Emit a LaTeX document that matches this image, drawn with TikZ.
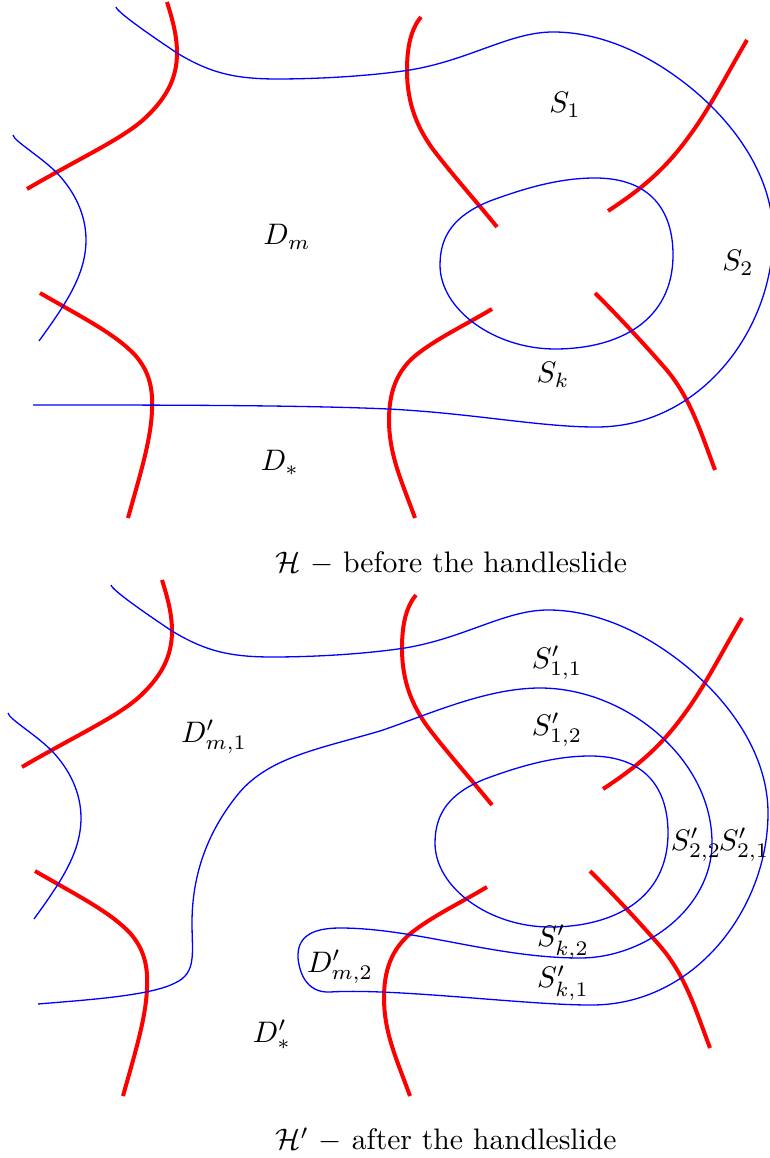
\documentclass[tikz,border=0pt]{standalone}
\usepackage{tikz}
\usetikzlibrary{calc}
\definecolor{alphared}{RGB}{255, 0, 0}
\definecolor{betablue}{RGB}{0, 0, 255}
\tikzset{
    alphacurve/.style={alphared, line width=1.35pt},
    betacurve/.style={betablue, line width=0.44pt},
    region/.style={inner sep=0pt},
}
% curves that are the same before and after the slide
\newcommand{\fixedcurves}{%
    \draw[alphacurve] (167,2) .. controls (172,18) and (177,35) .. (177,53)
        .. controls (177,80) and (165,100) .. (143,120)
        .. controls (120,140) and (80,158) .. (27,189);
    \draw[alphacurve] (40,293) .. controls (85,319) and (115,334) .. (135,355)
        .. controls (150,372) and (153,390) .. (152,410)
        .. controls (151,440) and (140,475) .. (128,518);
    \draw[alphacurve] (421,17) .. controls (410,30) and (407,50) .. (407,70)
        .. controls (407,105) and (418,128) .. (432,148)
        .. controls (450,172) and (475,200) .. (497,227);
    \draw[alphacurve] (747,40) .. controls (728,72) and (710,108) .. (690,135)
        .. controls (665,170) and (640,190) .. (608,211);
    \draw[alphacurve] (492,309) .. controls (465,325) and (440,337) .. (420,352)
        .. controls (395,370) and (389,395) .. (389,420)
        .. controls (389,455) and (402,482) .. (415,518);
    \draw[alphacurve] (595,293) .. controls (620,318) and (645,345) .. (665,368)
        .. controls (690,397) and (700,430) .. (715,470);
    \draw[betacurve] (13,135) .. controls (14,141) and (40,156) .. (57,173)
        .. controls (75,192) and (86,215) .. (86,240)
        .. controls (86,275) and (65,305) .. (39,341);
    \draw[betacurve] (440,265) .. controls (440,235) and (455,215) .. (490,201)
        .. controls (525,188) and (560,178) .. (595,178)
        .. controls (650,178) and (673,210) .. (673,255)
        .. controls (673,320) and (620,349) .. (555,349)
        .. controls (495,349) and (440,310) .. (440,265) -- cycle;
}
% first part of the long beta curve, the same in both pictures
\newcommand{\outerstart}{%
    (116,7) .. controls (117,12) and (150,35) .. (177,53)
        .. controls (210,73) and (235,79) .. (277,79)
        .. controls (320,79) and (370,76) .. (410,70)
        .. controls (470,60) and (510,32) .. (553,32)
        .. controls (620,32) and (680,75) .. (712,107)
        .. controls (750,145) and (773,190) .. (773,235)
        .. controls (773,330) and (700,428) .. (595,427)
}

\begin{document}
\begin{tikzpicture}[x=0.337pt, y=-0.337pt]

    \useasboundingbox (0,0) rectangle (770,1158);

    % before
    \fixedcurves
    \draw[betacurve] \outerstart
        .. controls (540,427) and (470,413) .. (388,409)
        .. controls (300,405) and (150,405) .. (33,405);

    \node[region] (s1) at (565,105) {$S_1$};
    \node[region] (s2) at (738,263) {$S_2$};
    \node[region] (dm) at (287,237) {$D_m$};
    \node[region] (sk) at (553,375) {$S_k$};
    \node[region] (dstar) at (280,463) {$D_*$};
    \node (before) at (451,563) {$\mathcal{H}$ $-$ before the handleslide};

    % after
    \begin{scope}[shift={(-5,578)}]
        \fixedcurves
        \draw[betacurve] \outerstart
            .. controls (530,427) and (400,410) .. (335,414)
            .. controls (315,415) and (305,400) .. (303,380)
            .. controls (302,360) and (315,350) .. (345,350)
            .. controls (420,350) and (500,380) .. (585,380)
            .. controls (650,380) and (717,330) .. (717,265)
            .. controls (717,180) and (630,110) .. (545,110)
            .. controls (490,110) and (430,138) .. (385,153)
            .. controls (320,172) and (270,180) .. (240,220)
            .. controls (205,265) and (197,310) .. (197,345)
            .. controls (197,375) and (202,395) .. (180,405)
            .. controls (155,418) and (90,422) .. (43,426);

        \node[region] (s11) at (562,85) {$S'_{1,1}$};
        \node[region] (s12) at (562,152) {$S'_{1,2}$};
        \node[region] (dm1) at (219,159) {$D'_{m,1}$};
        \node[region] (s22) at (701,267) {$S'_{2,2}$};
        \node[region] (s21) at (749,267) {$S'_{2,1}$};
        \node[region] (sk2) at (568,364) {$S'_{k,2}$};
        \node[region] (sk1) at (568,405) {$S'_{k,1}$};
        \node[region] (dm2) at (345,389) {$D'_{m,2}$};
        \node[region] (dstar2) at (277,457) {$D'_*$};
        \node (after) at (451,562) {$\mathcal{H}'$ $-$ after the handleslide};
    \end{scope}

\end{tikzpicture}
\end{document}
